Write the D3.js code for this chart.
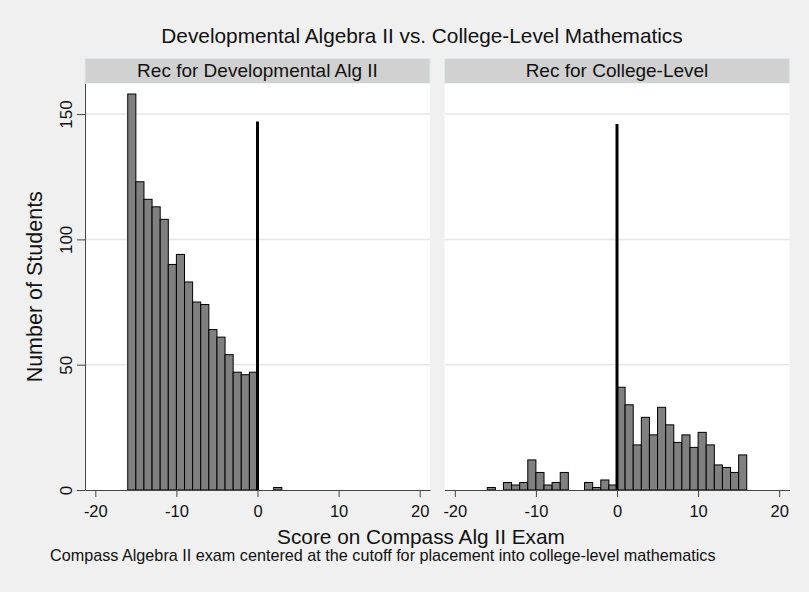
<!DOCTYPE html>
<html>
<head>
<meta charset="utf-8">
<script src="https://cdn.jsdelivr.net/npm/d3@7"></script>
<style>
  body { margin: 0; background: #f0f0f0; }
  text { font-family: "Liberation Sans", Arial, sans-serif; fill: #111; }
</style>
</head>
<body>
<div id="chart"></div>
<script>
// Data (bins are 1 point wide, value = left edge of the bin)
var panelNames = ["Rec for Developmental Alg II", "Rec for College-Level"]

var devBins   = [-16,-15,-14,-13,-12,-11,-10,-9,-8,-7,-6,-5,-4,-3,-2,-1, 2]
var devCounts = [158,123,116,113,108, 90, 94,83,75,74,64,61,54,47,46,47, 1]

var colBins   = [-16,-14,-13,-12,-11,-10,-9,-8,-7,-4,-3,-2,-1, 0, 1, 2, 3, 4, 5, 6, 7, 8, 9,10,11,12,13,14,15]
var colCounts = [  1,  3,  2,  3, 12,  7, 2, 3, 7, 3, 1, 4, 2,41,34,18,29,22,33,26,19,22,17,23,18,10, 9, 7,14]

// height of the cutoff line drawn at 0 in each panel
var cutoffHeights = [147, 146]

var xTicks = [-20, -10, 0, 10, 20]
var yTicks = [0, 50, 100, 150]

var titleText = "Developmental Algebra II vs. College-Level Mathematics"
var xTitle = "Score on Compass Alg II Exam"
var yTitle = "Number of Students"
var noteText = "Compass Algebra II exam centered at the cutoff for placement into college-level mathematics"

// Layout
var width = 809, height = 592
var panelLeft = [85, 444.5], panelW = 345
var stripTop = 58.5, plotTop = 83.5, plotBottom = 490

var svg = d3.select("#chart").append("svg")
  .attr("width", width)
  .attr("height", height)

svg.append("rect").attr("width", width).attr("height", height).attr("fill", "#f0f0f0")

var y = d3.scaleLinear().domain([0, 162.2]).range([plotBottom, plotTop])

var panels = [
  {bins: devBins, counts: devCounts},
  {bins: colBins, counts: colCounts}
]

// plain hyphen for negatives, like the original
var fmt = function(d) { return String(d) }

panels.forEach(function(p, i) {
  var x0 = panelLeft[i]
  var x = d3.scaleLinear().domain([-21.27, 21.27]).range([x0, x0 + panelW])

  // strip header
  svg.append("rect")
    .attr("x", x0).attr("y", stripTop)
    .attr("width", panelW).attr("height", plotTop - stripTop)
    .attr("fill", "#d1d1d1")
    .attr("stroke", "#dfe8ee").attr("stroke-width", 1)
  svg.append("text")
    .attr("x", x0 + panelW / 2).attr("y", 76.5)
    .attr("text-anchor", "middle")
    .style("font-size", "19px")
    .text(panelNames[i])

  // plot region
  svg.append("rect")
    .attr("x", x0).attr("y", plotTop)
    .attr("width", panelW).attr("height", plotBottom - plotTop)
    .attr("fill", "#fff")

  // grid
  svg.append("g").selectAll("line")
    .data(yTicks.filter(function(d) { return d > 0 }))
    .enter().append("line")
    .attr("x1", x0).attr("x2", x0 + panelW)
    .attr("y1", function(d) { return y(d) }).attr("y2", function(d) { return y(d) })
    .attr("stroke", "#e6e6e6").attr("stroke-width", 1.5)

  // bars
  var data = p.bins.map(function(b, k) { return {b: b, n: p.counts[k]} })
  svg.append("g").selectAll("rect")
    .data(data)
    .enter().append("rect")
    .attr("x", function(d) { return x(d.b) })
    .attr("width", function(d) { return x(d.b + 1) - x(d.b) })
    .attr("y", function(d) { return y(d.n) })
    .attr("height", function(d) { return y(0) - y(d.n) })
    .attr("fill", "#808080")
    .attr("stroke", "#000").attr("stroke-width", 1)

  // cutoff line
  svg.append("line")
    .attr("x1", x(0)).attr("x2", x(0))
    .attr("y1", y(0)).attr("y2", y(cutoffHeights[i]))
    .attr("stroke", "#000").attr("stroke-width", 3)

  // x axis
  var xAxis = svg.append("g")
    .attr("transform", "translate(0," + plotBottom + ")")
    .call(d3.axisBottom(x).tickValues(xTicks).tickFormat(fmt).tickSize(7).tickPadding(8).tickSizeOuter(0))
  xAxis.select(".domain").attr("stroke", "#444")
  xAxis.selectAll(".tick line").attr("stroke", "#444")
  xAxis.selectAll("text").style("font-size", "16.5px").attr("fill", "#111")

  // y axis only on the first panel
  if (i == 0) {
    var yAxis = svg.append("g")
      .attr("transform", "translate(" + x0 + ",0)")
      .call(d3.axisLeft(y).tickValues(yTicks).tickFormat(fmt).tickSize(8).tickPadding(5).tickSizeOuter(0))
    yAxis.select(".domain").attr("stroke", "#444")
    yAxis.selectAll(".tick line").attr("stroke", "#444")
    yAxis.selectAll("text")
      .style("font-size", "17px")
      .attr("fill", "#111")
      .attr("text-anchor", "middle")
      .attr("dy", 0)
      .attr("x", 0)
      .attr("transform", "translate(-13,0) rotate(-90)")
  }
})

// titles
svg.append("text")
  .attr("x", 422).attr("y", 43)
  .attr("text-anchor", "middle")
  .style("font-size", "20.8px")
  .text(titleText)

svg.append("text")
  .attr("x", 421).attr("y", 544)
  .attr("text-anchor", "middle")
  .style("font-size", "20.8px")
  .text(xTitle)

svg.append("text")
  .attr("transform", "translate(42," + ((plotTop + plotBottom) / 2) + ") rotate(-90)")
  .attr("text-anchor", "middle")
  .style("font-size", "21.5px")
  .text(yTitle)

svg.append("text")
  .attr("x", 50).attr("y", 561)
  .style("font-size", "16.2px")
  .text(noteText)
</script>
</body>
</html>
